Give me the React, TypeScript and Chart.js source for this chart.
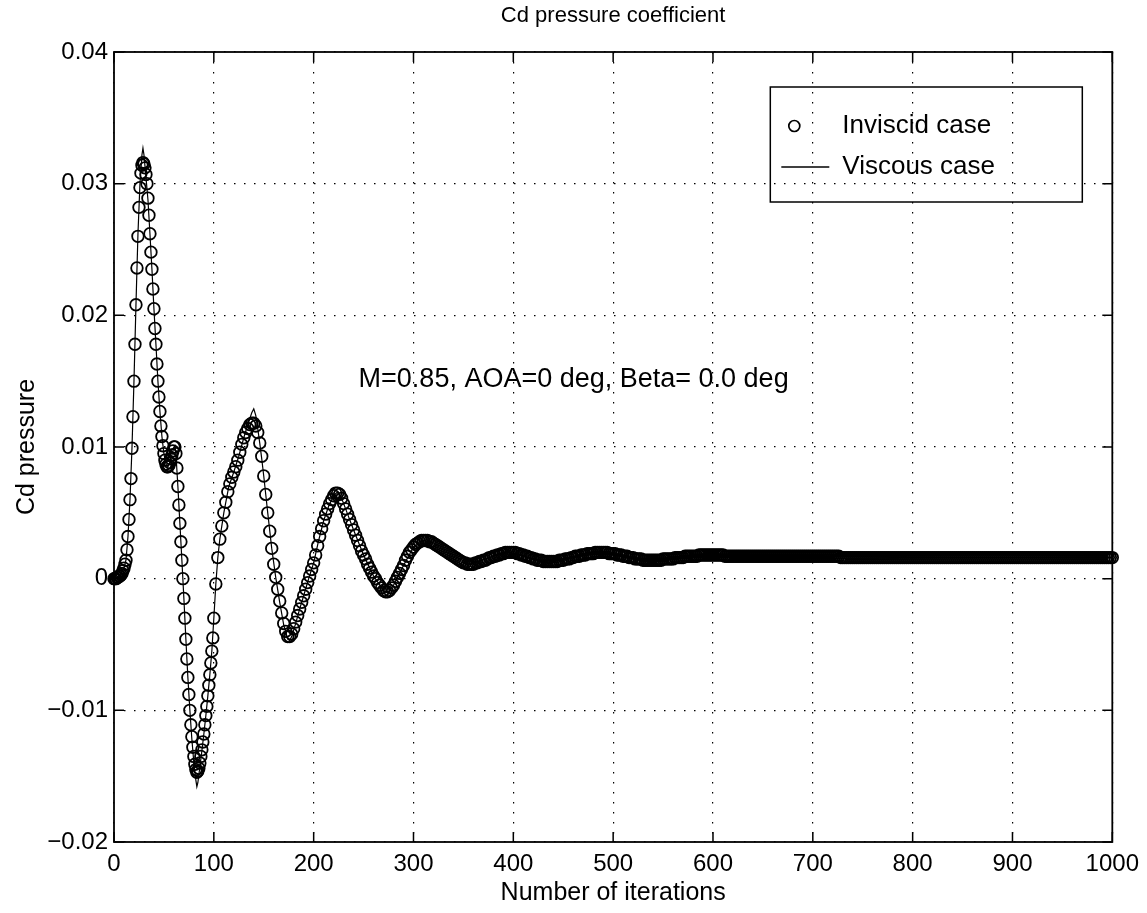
import React, { useEffect, useRef } from 'react';
import { Chart, registerables } from 'chart.js';

Chart.register(...registerables);

const FONT = '"Liberation Sans", Arial, Helvetica, sans-serif';

const chartTitle = 'Cd pressure coefficient';
const xAxisTitle = 'Number of iterations';
const yAxisTitle = 'Cd pressure';
const annotationText = 'M=0.85, AOA=0 deg, Beta= 0.0 deg';
const annotationAt = { x: 245, y: 0.0151 };
const seriesLabels = ['Inviscid case', 'Viscous case'];

const xTickValues = [0, 100, 200, 300, 400, 500, 600, 700, 800, 900, 1000];
const xTickLabels = ['0', '100', '200', '300', '400', '500', '600', '700', '800', '900', '1000'];
const yTickValues = [-0.02, -0.01, 0, 0.01, 0.02, 0.03, 0.04];
const yTickLabels = ['\u22120.02', '\u22120.01', '0', '0.01', '0.02', '0.03', '0.04'];

// Inviscid Cd pressure, in units of 1e-4.
// iterations 0..99, every iteration
const inviscidIt0to99 = [
  0, 0, 0, 1, 1, 2, 2, 3, 4, 6,
  8, 11, 14, 22, 32, 45, 60, 76, 99, 123,
  150, 178, 208, 236, 260, 282, 297, 308, 314, 316,
  315, 312, 307, 300, 289, 276, 262, 248, 235, 220,
  205, 190, 178, 163, 150, 138, 127, 116, 108, 101,
  95, 90, 87, 85, 85, 86, 88, 91, 94, 97,
  100, 100, 95, 84, 70, 56, 42, 28, 14, 0,
  -15, -30, -46, -61, -75, -88, -100, -111, -120, -128,
  -135, -141, -145, -147, -146, -144, -140, -135, -130, -124,
  -118, -111, -104, -97, -89, -81, -73, -64, -55, -45,
];
// iterations 100..298, every 2nd iteration
const inviscidIt100to298 = [
  -30, -4, 16, 30, 40, 50, 58, 66, 72, 77,
  81, 85, 90, 96, 102, 107, 111, 114, 117, 118,
  118, 116, 111, 103, 93, 78, 64, 50, 36, 23,
  11, 1, -8, -17, -26, -34, -40, -44, -44, -42,
  -38, -33, -28, -23, -18, -13, -8, -3, 2, 7,
  12, 18, 25, 32, 38, 44, 49, 53, 57, 60,
  63, 65, 65, 64, 61, 57, 53, 49, 45, 41,
  37, 33, 29, 25, 21, 18, 15, 11, 8, 5,
  2, 0, -3, -5, -7, -9, -10, -10, -9, -7,
  -5, -2, 1, 4, 7, 10, 14, 17, 20, 22,
];
// iterations 300..598, every 2nd iteration
const inviscidIt300to598 = [
  24, 26, 27, 28, 29, 29, 29, 29, 28, 28,
  27, 26, 25, 24, 23, 22, 21, 20, 19, 18,
  17, 16, 15, 14, 13, 12, 12, 11, 11, 11,
  11, 12, 12, 13, 13, 14, 14, 15, 16, 16,
  17, 17, 18, 18, 19, 19, 20, 20, 20, 20,
  20, 20, 19, 19, 18, 18, 17, 17, 16, 16,
  15, 15, 14, 14, 14, 13, 13, 13, 13, 13,
  13, 13, 13, 14, 14, 14, 15, 15, 15, 16,
  16, 17, 17, 17, 18, 18, 18, 19, 19, 19,
  19, 20, 20, 20, 20, 20, 20, 20, 19, 19,
  19, 19, 18, 18, 18, 17, 17, 17, 16, 16,
  16, 15, 15, 15, 15, 14, 14, 14, 14, 14,
  14, 14, 14, 14, 14, 15, 15, 15, 15, 15,
  15, 16, 16, 16, 16, 16, 17, 17, 17, 17,
  17, 17, 17, 18, 18, 18, 18, 18, 18, 18,
];
// iterations 600..1000, every 2nd iteration
const inviscidIt600to1000 = [
  18, 18, 18, 18, 18, 18, 17, 17, 17, 17,
  17, 17, 17, 17, 17, 17, 17, 17, 17, 17,
  17, 17, 17, 17, 17, 17, 17, 17, 17, 17,
  17, 17, 17, 17, 17, 17, 17, 17, 17, 17,
  17, 17, 17, 17, 17, 17, 17, 17, 17, 17,
  17, 17, 17, 17, 17, 17, 17, 17, 17, 17,
  17, 17, 17, 17, 16, 16, 16, 16, 16, 16,
  16, 16, 16, 16, 16, 16, 16, 16, 16, 16,
  16, 16, 16, 16, 16, 16, 16, 16, 16, 16,
  16, 16, 16, 16, 16, 16, 16, 16, 16, 16,
  16, 16, 16, 16, 16, 16, 16, 16, 16, 16,
  16, 16, 16, 16, 16, 16, 16, 16, 16, 16,
  16, 16, 16, 16, 16, 16, 16, 16, 16, 16,
  16, 16, 16, 16, 16, 16, 16, 16, 16, 16,
  16, 16, 16, 16, 16, 16, 16, 16, 16, 16,
  16, 16, 16, 16, 16, 16, 16, 16, 16, 16,
  16, 16, 16, 16, 16, 16, 16, 16, 16, 16,
  16, 16, 16, 16, 16, 16, 16, 16, 16, 16,
  16, 16, 16, 16, 16, 16, 16, 16, 16, 16,
  16, 16, 16, 16, 16, 16, 16, 16, 16, 16,
  16,
];

// Viscous Cd pressure (solid line), in units of 1e-4
const viscousIterations = [
  0, 5, 10, 12, 14, 16, 18, 20, 22, 24,
  26, 28, 29, 30, 32, 34, 36, 38, 40, 42,
  44, 46, 48, 50, 52, 54, 56, 58, 60, 61,
  62, 64, 66, 68, 70, 72, 74, 76, 78, 80,
  82, 83, 84, 86, 88, 90, 92, 94, 96, 98,
  100, 102, 104, 106, 110, 115, 120, 125, 130, 134,
  138, 140, 142, 144, 146, 148, 150, 154, 158, 162,
  166, 170, 174, 176, 178, 182, 186, 190, 195, 200,
  205, 210, 215, 220, 224, 228, 234, 240, 250, 260,
  270, 274, 280, 290, 300, 310, 320, 340, 357, 380,
  397, 420, 440, 465, 490, 515, 540, 570, 594, 650,
  700, 800, 900, 1000,
];
const viscousCdE4 = [
  0, 2, 8, 14, 32, 60, 99, 150, 208, 262,
  300, 322, 327, 322, 305, 288, 262, 235, 205, 178,
  150, 127, 108, 95, 87, 85, 88, 94, 100, 101,
  95, 70, 42, 14, -15, -46, -75, -100, -122, -140,
  -153, -158, -155, -143, -131, -118, -104, -89, -73, -55,
  -30, -4, 16, 30, 50, 70, 81, 93, 107, 117,
  126, 129, 124, 114, 103, 91, 78, 50, 23, 1,
  -18, -35, -46, -47, -44, -34, -23, -13, 0, 12,
  29, 44, 55, 63, 66, 61, 49, 37, 18, 2,
  -9, -11, -5, 10, 24, 29, 27, 17, 11, 17,
  20, 15, 13, 17, 20, 16, 14, 16, 18, 17,
  17, 16, 16, 16,
];

const SCALE = 1e-4;

function segment(values: number[], start: number, step: number) {
  return values.map((v, i) => ({ x: start + i * step, y: v * SCALE }));
}

const framePlugin = {
  id: 'matlabFrame',
  afterDatasetsDraw(chart: any) {
    const { ctx, chartArea: ca, scales } = chart;
    const xs = scales.x;
    const ys = scales.y;
    ctx.save();
    ctx.setLineDash([]);
    ctx.strokeStyle = '#000';
    ctx.lineWidth = 1.8;
    ctx.strokeRect(ca.left, ca.top, ca.right - ca.left, ca.bottom - ca.top);

    const TL = 10;
    ctx.lineWidth = 1.5;
    ctx.beginPath();
    xTickValues.forEach((v) => {
      const px = xs.getPixelForValue(v);
      ctx.moveTo(px, ca.bottom);
      ctx.lineTo(px, ca.bottom - TL);
      ctx.moveTo(px, ca.top);
      ctx.lineTo(px, ca.top + TL);
    });
    yTickValues.forEach((v) => {
      const py = ys.getPixelForValue(v);
      ctx.moveTo(ca.left, py);
      ctx.lineTo(ca.left + TL, py);
      ctx.moveTo(ca.right, py);
      ctx.lineTo(ca.right - TL, py);
    });
    ctx.stroke();

    ctx.fillStyle = '#000';

    // title, centred over the plot box
    ctx.font = `22px ${FONT}`;
    ctx.textAlign = 'center';
    ctx.textBaseline = 'middle';
    ctx.fillText(chartTitle, (ca.left + ca.right) / 2, 16);

    // annotation
    ctx.font = `27px ${FONT}`;
    ctx.textAlign = 'left';
    ctx.textBaseline = 'middle';
    ctx.fillText(annotationText, xs.getPixelForValue(annotationAt.x), ys.getPixelForValue(annotationAt.y));

    // legend box (transparent, like the original)
    const bw = 312;
    const bh = 115;
    const lx = ca.right - 30 - bw;
    const ly = ca.top + 35;
    ctx.lineWidth = 1.5;
    ctx.strokeRect(lx, ly, bw, bh);
    const row1 = ly + 39;
    const row2 = ly + 80;
    ctx.lineWidth = 1.7;
    ctx.beginPath();
    ctx.arc(lx + 24, row1, 5.5, 0, Math.PI * 2);
    ctx.stroke();
    ctx.lineWidth = 1.3;
    ctx.beginPath();
    ctx.moveTo(lx + 11, row2);
    ctx.lineTo(lx + 59, row2);
    ctx.stroke();
    ctx.font = `26px ${FONT}`;
    ctx.fillText(seriesLabels[0], lx + 72, row1);
    ctx.fillText(seriesLabels[1], lx + 72, row2);
    ctx.restore();
  },
};

export default function App() {
  const canvasRef = useRef<HTMLCanvasElement | null>(null);

  useEffect(() => {
    const canvas = canvasRef.current;
    if (!canvas) return;
    const inviscidPts = [
      ...segment(inviscidIt0to99, 0, 1),
      ...segment(inviscidIt100to298, 100, 2),
      ...segment(inviscidIt300to598, 300, 2),
      ...segment(inviscidIt600to1000, 600, 2),
    ];
    const viscousPts = viscousIterations.map((it, i) => ({ x: it, y: viscousCdE4[i] * SCALE }));

    const chart = new Chart(canvas, {
      type: 'scatter',
      data: {
        datasets: [
          {
            label: seriesLabels[1],
            data: viscousPts,
            showLine: true,
            borderColor: '#000',
            borderWidth: 1.2,
            pointRadius: 0,
            tension: 0,
            order: 0,
          } as any,
          {
            label: seriesLabels[0],
            data: inviscidPts,
            showLine: false,
            pointStyle: 'circle',
            pointRadius: 5.8,
            pointBorderWidth: 1.8,
            pointBorderColor: '#000',
            pointBackgroundColor: 'rgba(0,0,0,0)',
            borderColor: '#000',
            backgroundColor: 'rgba(0,0,0,0)',
            clip: false,
            order: 1,
          } as any,
        ],
      },
      options: {
        animation: false,
        responsive: false,
        layout: { padding: { left: 0, right: 34, top: 52, bottom: 0 } },
        plugins: {
          legend: { display: false },
          tooltip: { enabled: false },
          title: { display: false },
        },
        scales: {
          x: {
            type: 'linear',
            min: 0,
            max: 1000,
            afterFit: (s: any) => { s.height = 71; },
            afterBuildTicks: (s: any) => { s.ticks = xTickValues.map((v) => ({ value: v })); },
            ticks: {
              color: '#000',
              font: { family: FONT, size: 24 },
              padding: 8,
              maxRotation: 0,
              autoSkip: false,
              callback: (_v: any, i: number) => xTickLabels[i],
            },
            grid: { color: '#000', lineWidth: 1.2, drawTicks: false },
            border: { display: false, dash: [1.5, 8.5] },
            title: {
              display: true,
              text: xAxisTitle,
              color: '#000',
              font: { family: FONT, size: 25 },
              padding: { top: 0, bottom: 5 },
            },
          },
          y: {
            type: 'linear',
            min: -0.02,
            max: 0.04,
            afterFit: (s: any) => { s.width = 114; },
            afterBuildTicks: (s: any) => { s.ticks = yTickValues.map((v) => ({ value: v })); },
            ticks: {
              color: '#000',
              font: { family: FONT, size: 24 },
              padding: 6,
              autoSkip: false,
              callback: (_v: any, i: number) => yTickLabels[i],
            },
            grid: { color: '#000', lineWidth: 1.2, drawTicks: false },
            border: { display: false, dash: [1.5, 8.5] },
            title: {
              display: true,
              text: yAxisTitle,
              color: '#000',
              font: { family: FONT, size: 25 },
              padding: { top: 12, bottom: 0 },
            },
          },
        },
      },
      plugins: [framePlugin],
    });
    return () => chart.destroy();
  }, []);

  return (
    <div style={{ position: 'absolute', left: 0, top: 0, width: 1147, height: 913, background: '#fff' }}>
      <canvas ref={canvasRef} width={1147} height={913} style={{ display: 'block' }} />
    </div>
  );
}
